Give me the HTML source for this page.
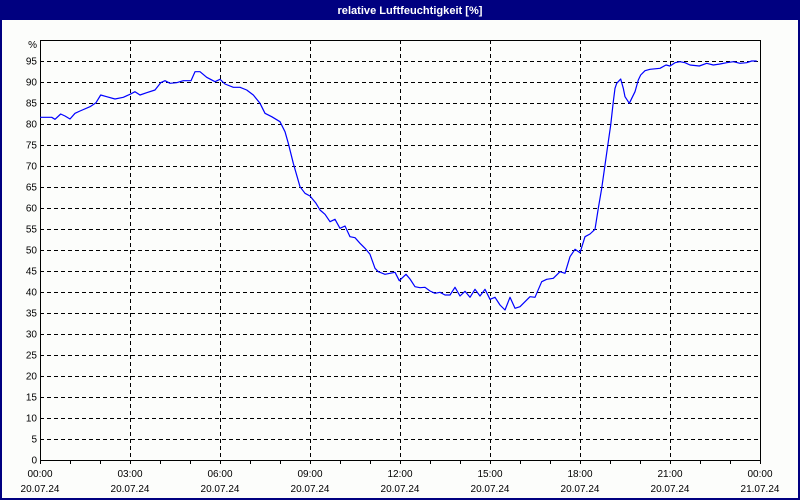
<!DOCTYPE html>
<html><head><meta charset="utf-8"><style>
html,body{margin:0;padding:0;background:#fff;}
svg{display:block;}
text{font-family:"Liberation Sans","DejaVu Sans",sans-serif;font-size:10px;fill:#000;}
</style></head><body>
<svg width="800" height="500" viewBox="0 0 800 500" xmlns="http://www.w3.org/2000/svg">
<rect x="0" y="0" width="800" height="500" fill="#000080"/>
<rect x="2" y="20" width="796" height="478" fill="#fcfdfb"/>
<text x="410" y="14" text-anchor="middle" style="font-weight:bold;fill:#fff;font-size:11px" textLength="145" lengthAdjust="spacingAndGlyphs">relative Luftfeuchtigkeit [%]</text>
<g stroke="#000" stroke-width="1" stroke-dasharray="4,3" shape-rendering="crispEdges">
<path d="M40 439.5H760M40 418.5H760M40 397.5H760M40 376.5H760M40 355.5H760M40 334.5H760M40 313.5H760M40 292.5H760M40 271.5H760M40 250.5H760M40 229.5H760M40 208.5H760M40 187.5H760M40 166.5H760M40 145.5H760M40 124.5H760M40 103.5H760M40 82.5H760M40 61.5H760"/>
<path d="M130.5 40V460M220.5 40V460M310.5 40V460M400.5 40V460M490.5 40V460M580.5 40V460M670.5 40V460"/>
</g>
<rect x="40.5" y="40.5" width="720" height="420" fill="none" stroke="#000" stroke-width="1" shape-rendering="crispEdges"/>
<g stroke="#000" stroke-width="1" shape-rendering="crispEdges">
<path d="M40.5 460V464M70.5 460V464M100.5 460V464M130.5 460V464M160.5 460V464M190.5 460V464M220.5 460V464M250.5 460V464M280.5 460V464M310.5 460V464M340.5 460V464M370.5 460V464M400.5 460V464M430.5 460V464M460.5 460V464M490.5 460V464M520.5 460V464M550.5 460V464M580.5 460V464M610.5 460V464M640.5 460V464M670.5 460V464M700.5 460V464M730.5 460V464M760.5 460V464"/>
</g>
<polyline fill="none" stroke="#0000ff" stroke-width="1.2" stroke-linejoin="round" points="40,117.3 51.7,117.3 55,119.3 60.7,114 65,116 70,119 75,113.3 80,111 90,106.7 96,102.7 100.7,95 106.7,96.7 115,99 123.3,97.3 130,94.3 135,91.7 140,95 146.7,92.7 155,90 160.7,82.7 165,80.7 170,83.3 176.7,82.7 183.3,80.7 191,80.7 195,71.7 200,71.7 206.7,77.3 215,81.7 220,79.3 225,84 233.3,87.3 240,87.3 246.7,90 253.3,95 260,103.3 265,113.3 271.7,116.7 280,121.7 285,131.7 288.3,143.3 293.3,163.3 300,186.7 305,193.3 310,196 316,203.3 320,210 325,214.3 330,221.7 335,219.3 340,228.3 345,226 350,236.7 355,237.7 360,243.3 365,248.3 370,254.3 375,268.3 378.3,271.7 385,274.3 390,273.3 395,272.3 399.3,280.7 406,274.3 410,279 415,286.7 420,287.7 425,287.3 430,291 435,293.3 440,292.3 445,295 450,295 455,287.3 460,296 465,291.3 470,297.3 475,289.3 480,296 485,289.3 490,299.3 495,297.3 500,305 505,310 510,297.3 515,308.3 520,306.7 530,296.7 535,297.3 541.7,281.7 546.7,279.3 553.3,278.3 560,271.7 565,273.3 570,256.7 575,249.3 580,252.7 585,236.7 590,234 595,229.3 598.3,208.3 601.7,188.3 605,165 608.3,141.7 610.7,125 613.3,101.7 615,88.3 616.7,83.3 620.7,79 623.3,88.3 625,96.7 629.3,103.3 635,91.7 638.3,80 640.7,75 645,70.7 650,69.3 660,68.3 666,65 670,66 675,62.7 680,61.7 685,62.7 690,65 699.3,66 706.7,63.3 713.3,65 720,64 726.7,62.7 733.3,61.7 740,63.3 746.7,62.7 751.7,61 756.7,61"/>
<g text-anchor="end">
<text x="37" y="48">%</text>
<text x="37" y="64.7">95</text>
<text x="37" y="85.7">90</text>
<text x="37" y="106.7">85</text>
<text x="37" y="127.7">80</text>
<text x="37" y="148.7">75</text>
<text x="37" y="169.7">70</text>
<text x="37" y="190.7">65</text>
<text x="37" y="211.7">60</text>
<text x="37" y="232.7">55</text>
<text x="37" y="253.7">50</text>
<text x="37" y="274.7">45</text>
<text x="37" y="295.7">40</text>
<text x="37" y="316.7">35</text>
<text x="37" y="337.7">30</text>
<text x="37" y="358.7">25</text>
<text x="37" y="379.7">20</text>
<text x="37" y="400.7">15</text>
<text x="37" y="421.7">10</text>
<text x="37" y="442.7">5</text>
<text x="37" y="463.7">0</text>
</g>
<g text-anchor="middle">
<text x="40" y="477">00:00</text><text x="40" y="492">20.07.24</text>
<text x="130" y="477">03:00</text><text x="130" y="492">20.07.24</text>
<text x="220" y="477">06:00</text><text x="220" y="492">20.07.24</text>
<text x="310" y="477">09:00</text><text x="310" y="492">20.07.24</text>
<text x="400" y="477">12:00</text><text x="400" y="492">20.07.24</text>
<text x="490" y="477">15:00</text><text x="490" y="492">20.07.24</text>
<text x="580" y="477">18:00</text><text x="580" y="492">20.07.24</text>
<text x="670" y="477">21:00</text><text x="670" y="492">20.07.24</text>
<text x="760" y="477">00:00</text><text x="760" y="492">21.07.24</text>
</g>
</svg>
</body></html>
